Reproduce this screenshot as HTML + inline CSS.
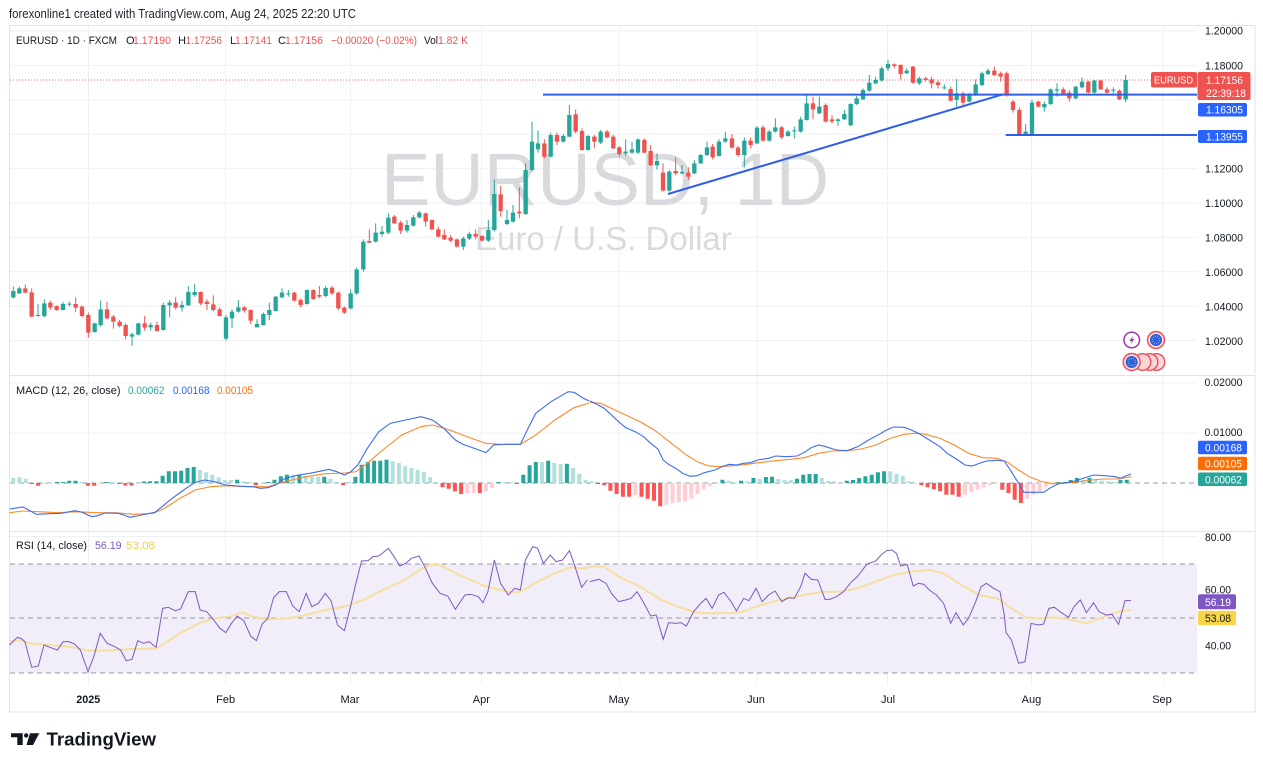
<!DOCTYPE html>
<html>
<head>
<meta charset="utf-8">
<style>
html,body{margin:0;padding:0;background:#fff;}
svg{display:block;}
</style>
</head>
<body>
<svg width="1263" height="768" viewBox="0 0 1263 768" xmlns="http://www.w3.org/2000/svg" font-family="'Liberation Sans', sans-serif">
<rect width="1263" height="768" fill="#ffffff"/>

<!-- header -->
<text x="9" y="18" font-size="12.5" fill="#1e222d" textLength="347" lengthAdjust="spacingAndGlyphs">forexonline1 created with TradingView.com, Aug 24, 2025 22:20 UTC</text>

<!-- frame -->
<rect x="9.5" y="25.5" width="1245.5" height="686.5" fill="none" stroke="#e0e3eb" stroke-width="1"/>

<!-- RSI band -->
<rect x="10" y="564" width="1187" height="109" fill="#f2eef9"/>

<!-- gridlines -->
<g stroke="#eef0f4" stroke-width="1">
<path d="M10 31H1197M10 65.4H1197M10 99.8H1197M10 134.2H1197M10 168.6H1197M10 203H1197M10 237.4H1197M10 271.8H1197M10 306.2H1197M10 340.6H1197"/>
<path d="M10 383H1197M10 433H1197"/>
<path d="M10 536.5H1197M10 591H1197M10 645H1197"/>
<path d="M88.5 26V685M225.5 26V685M350.5 26V685M481.5 26V685M619 26V685M757 26V685M887.5 26V685M1031.5 26V685M1163 26V685"/>
</g>
<!-- pane separators -->
<path d="M10 375.5H1255M10 531.5H1255" stroke="#e0e3eb" stroke-width="1"/>

<!-- dashed lines -->
<g stroke="#9598a1" stroke-width="1" stroke-dasharray="5 4" fill="none">
<path d="M10 483H1197"/>
<path d="M10 564H1197M10 618H1197M10 673H1197"/>
</g>

<!-- watermark -->
<text x="381" y="205" font-size="74" fill="#d9dadd">EURUSD, 1D</text>
<text x="475" y="250" font-size="33" fill="#d9dadd">Euro / U.S. Dollar</text>

<!-- price dotted line -->
<path d="M10 80H1151" stroke="#f23645" stroke-width="1" stroke-dasharray="1 2" opacity="0.75"/>

<!-- candles zoom4 -->
<g transform="translate(0,180) scale(0.333333)" fill="none">
<path stroke="#26a69a" stroke-width="3" d="M40 320V356M58 320V342M114 372V410M133 358V412M189 366V391M208 365V380M284 428V458M302 362V440M396 458V497M415 428V466M452 428V452M490 368V452M509 360V412M546 363V395M565 318V378M584 312V350M678 405V482M696 388V445M715 360V398M771 418V442M790 397V437M808 368V420M827 348V395M846 325V355M865 330V350M921 328V374M977 318V352M1052 328V388"/>
<path stroke="#26a69a" stroke-width="13" d="M40 333V352M58 325V340M114 405V408M133 370V408M189 372V390M208 371V374M284 430V456M302 388V435M396 463V470M415 430V464M452 435V442M490 375V450M509 368V376M546 375V383M565 336V376M584 336V345M678 412V476M696 395V415M715 382V395M771 432V442M790 402V435M808 390V405M827 350V393M846 338V352M865 340V343M921 330V372M977 324V348M1052 340V385"/>
<path stroke="#ef5350" stroke-width="3" d="M76 313V340M95 325V412M151 362V390M170 376V392M227 352V395M246 376V412M265 398V473M321 366V418M340 405V446M359 420V442M377 430V478M434 408V452M471 425V455M527 352V388M602 334V375M621 358V390M640 346V394M659 382V410M733 378V398M752 388V432M883 335V365M902 355V383M940 328V360M958 318V355M996 318V345M1015 335V390M1033 380V402"/>
<path stroke="#ef5350" stroke-width="13" d="M76 325V338M95 337V410M151 368V383M170 378V390M227 372V383M246 380V408M265 405V458M321 388V415M340 410V425M359 425V438M377 435V468M434 430V443M471 435V453M527 368V383M602 336V370M621 365V372M640 373V390M659 388V408M733 382V392M752 390V422M883 338V362M902 360V375M940 330V357M958 345V350M996 323V340M1015 338V385M1033 383V398"/>
</g>

<!-- candles zoom5 -->
<g transform="translate(340,80) scale(0.333333)" fill="none">
<path stroke="#26a69a" stroke-width="3" d="M50 562V645M70 478V575M107 430V488M126 438V470M145 400V462M201 420V458M220 405V440M238 393V415M370 470V510M388 455V480M445 420V486M463 298V455M501 390V435M519 375V428M557 250V405M576 125V275M594 152V218M632 158V232M670 162V188M688 75V172M744 165V212M782 150V192M857 178V228M876 185V222M894 175V222M951 220V268M988 270V335M1026 255V282M1063 240V282M1082 222V252M1101 185V228"/>
<path stroke="#26a69a" stroke-width="13" d="M50 568V640M70 485V568M107 458V485M126 455V462M145 413V458M201 435V452M220 412V437M238 398V412M370 475V500M388 462V476M445 450V482M463 342V450M501 420V432M519 398V425M557 270V402M576 185V270M594 190V208M632 165V230M670 168V185M688 105V170M744 168V210M782 155V188M857 215V220M876 208V218M894 178V218M951 243V256M988 275V332M1026 276V280M1063 250V280M1082 225V250M1101 202V225"/>
<path stroke="#ef5350" stroke-width="3" d="M88 448V490M163 405V432M182 422V462M257 398V440M276 418V450M295 440V473M313 448V480M332 465V487M351 475V503M407 448V478M426 465V485M482 318V410M538 322V415M613 178V235M651 158V195M707 88V160M726 145V212M763 165V205M801 150V175M820 165V207M838 198V230M913 175V220M932 195V258M969 250V335M1007 232V285M1045 262V300"/>
<path stroke="#ef5350" stroke-width="13" d="M88 483V488M163 410V430M182 428V452M257 400V425M276 420V448M295 448V470M313 465V478M332 473V482M351 478V500M407 462V470M426 468V482M482 343V393M538 395V400M613 190V230M651 165V185M707 103V155M726 153V210M763 170V185M801 155V172M820 170V205M838 202V222M913 180V218M932 213V255M969 278V332M1007 273V280M1045 278V290"/>
</g>

<!-- candles zoom6 -->
<g transform="translate(690,50) scale(0.333333)" fill="none">
<path stroke="#26a69a" stroke-width="3" d="M87 268V320M106 245V278M163 262V352M201 228V282M238 240V275M256 205V248M294 240V260M313 230V265M332 200V248M350 132V212M388 140V192M444 205V228M463 180V210M482 160V228M500 138V165M519 115V150M538 75V125M557 80V103M575 50V95M594 30V63M650 55V72M688 80V105M763 103V118M800 88V170M838 128V158M857 88V138M876 65V108M894 55V75M1007 222V258M1026 150V258M1063 155V185M1082 115V165M1101 100V140M1157 108V148M1176 82V115M1213 90V130M1270 112V130M1307 75V157"/>
<path stroke="#26a69a" stroke-width="13" d="M87 275V318M106 265V275M163 272V315M201 233V280M238 245V272M256 232V245M294 245V258M313 241V244M332 208V245M350 160V210M388 170V190M444 208V213M463 192V208M482 162V226M500 145V162M519 120V148M538 98V122M557 90V100M575 55V92M594 42V55M650 62V70M688 85V100M763 112V115M800 130V150M838 135V155M857 103V135M876 70V105M894 62V72M1007 245V255M1026 158V253M1063 162V172M1082 118V162M1101 118V122M1157 110V145M1176 95V112M1213 92V128M1270 119V122M1307 90V148"/>
<path stroke="#ef5350" stroke-width="3" d="M68 282V328M126 252V296M144 288V320M182 262V295M219 226V275M275 228V268M369 140V208M407 160V218M426 195V220M613 40V55M632 43V88M669 48V102M707 80V95M725 80V115M744 92V115M782 110V155M819 125V165M913 50V78M932 65V95M950 65V140M969 150V188M988 172V258M1045 152V172M1120 112V135M1138 120V155M1195 92V130M1232 90V120M1251 112V132M1288 118V150"/>
<path stroke="#ef5350" stroke-width="13" d="M68 290V322M126 265V293M144 293V315M182 272V285M219 232V272M275 232V262M369 160V178M407 165V215M426 208V215M613 43V48M632 45V72M669 50V98M707 85V90M725 88V100M744 97V105M782 117V152M819 130V158M913 62V75M932 70V80M950 70V135M969 155V180M988 180V255M1045 155V170M1120 118V132M1138 128V145M1195 95V128M1232 92V118M1251 118V128M1288 122V148"/>
</g>

<!-- drawn lines -->
<g stroke="#2f5fe6" stroke-width="2" fill="none">
<path d="M543 94.6H1197"/>
<path d="M1005.7 135H1197"/>
<path d="M668 194L1003 94.3"/>
</g>

<!-- MACD histogram -->
<path fill="#26a69a" d="M54.8 482h4v1h-4zM61.1 482h4v1h-4zM67.3 480.7h4v2.3h-4zM73.5 480.7h4v2.3h-4zM104.6 482h4v1h-4zM141.9 481.5h4v1.5h-4zM148.1 481.3h4v1.7h-4zM154.4 481.2h4v1.8h-4zM160.6 475.7h4v7.3h-4zM166.8 471.3h4v11.7h-4zM173 471.3h4v11.7h-4zM179.2 470.7h4v12.3h-4zM185.5 468h4v15h-4zM191.7 467h4v16h-4zM235.2 479.7h4v3.3h-4zM266.3 482h4v1h-4zM272.5 479.7h4v3.3h-4zM278.8 476.3h4v6.7h-4zM285 474.7h4v8.3h-4zM297.4 474.7h4v8.3h-4zM322.3 476.7h4v6.3h-4zM353.4 476.7h4v6.3h-4zM359.6 464.7h4v18.3h-4zM365.8 462h4v21h-4zM372.1 460.7h4v22.3h-4zM378.3 460.7h4v22.3h-4zM384.5 459.7h4v23.3h-4zM496.5 482h4v1h-4zM521.3 474.7h4v8.3h-4zM527.6 465.3h4v17.7h-4zM533.8 462h4v21h-4zM546.2 460.7h4v22.3h-4zM564.9 463.7h4v19.3h-4zM720.4 479.7h4v3.3h-4zM739 480.7h4v2.3h-4zM751.5 478h4v5h-4zM763.9 477h4v6h-4zM770.1 476.7h4v6.3h-4zM795 478.7h4v4.3h-4zM801.2 474.7h4v8.3h-4zM807.5 474h4v9h-4zM813.7 474h4v9h-4zM844.8 480.7h4v2.3h-4zM851 480h4v3h-4zM857.2 478h4v5h-4zM863.4 476.3h4v6.7h-4zM869.7 474.7h4v8.3h-4zM875.9 472.3h4v10.7h-4zM882.1 471.3h4v11.7h-4zM1056.3 482h4v1h-4zM1062.5 482h4v1h-4zM1068.7 480h4v3h-4zM1074.9 478h4v5h-4zM1087.4 478h4v5h-4zM1118.5 480h4v3h-4zM1124.7 479.9h4v3.1h-4z"/>
<path fill="#b2dfdb" d="M11.3 478h4v5h-4zM17.5 477.3h4v5.7h-4zM23.7 478.7h4v4.3h-4zM79.7 482h4v1h-4zM110.8 482h4v1h-4zM197.9 470h4v13h-4zM204.1 472.3h4v10.7h-4zM210.3 474.7h4v8.3h-4zM216.6 477.3h4v5.7h-4zM222.8 480h4v3h-4zM229 480h4v3h-4zM241.4 481.3h4v1.7h-4zM247.7 482h4v1h-4zM291.2 474.7h4v8.3h-4zM303.6 475.7h4v7.3h-4zM309.9 476.7h4v6.3h-4zM316.1 476.7h4v6.3h-4zM328.5 478.7h4v4.3h-4zM334.7 482h4v1h-4zM347.2 482h4v1h-4zM390.7 461.3h4v21.7h-4zM396.9 463h4v20h-4zM403.2 466.3h4v16.7h-4zM409.4 468h4v15h-4zM415.6 469.7h4v13.3h-4zM421.8 472h4v11h-4zM428 477.3h4v5.7h-4zM434.3 482h4v1h-4zM502.7 482h4v1h-4zM508.9 482h4v1h-4zM540 462.3h4v20.7h-4zM552.4 463h4v20h-4zM558.7 464h4v19h-4zM571.1 468h4v15h-4zM577.3 474h4v9h-4zM583.5 479.7h4v3.3h-4zM589.8 481.3h4v1.7h-4zM726.6 480.7h4v2.3h-4zM732.8 482h4v1h-4zM745.3 481.3h4v1.7h-4zM757.7 478.7h4v4.3h-4zM776.4 479h4v4h-4zM782.6 480h4v3h-4zM788.8 480h4v3h-4zM819.9 478h4v5h-4zM826.1 480.7h4v2.3h-4zM832.3 481.3h4v1.7h-4zM888.3 471.3h4v11.7h-4zM894.5 474h4v9h-4zM900.8 475.7h4v7.3h-4zM907 481.3h4v1.7h-4zM1081.1 480h4v3h-4zM1093.6 480h4v3h-4zM1099.8 480.7h4v2.3h-4zM1106 481.3h4v1.7h-4zM1112.2 482h4v1h-4z"/>
<path fill="#ff5252" d="M30 483h4v1h-4zM36.2 483h4v2.7h-4zM85.9 483h4v2.7h-4zM92.2 483h4v2.7h-4zM117 483h4v1h-4zM123.3 483h4v2.5h-4zM129.5 483h4v2.5h-4zM253.9 483h4v2.3h-4zM341 483h4v2.3h-4zM440.5 483h4v4.3h-4zM446.7 483h4v5.7h-4zM452.9 483h4v8.3h-4zM459.1 483h4v11h-4zM477.8 483h4v10h-4zM515.1 483h4v1h-4zM596 483h4v1h-4zM602.2 483h4v2.3h-4zM608.4 483h4v7.7h-4zM614.6 483h4v11h-4zM620.9 483h4v13.7h-4zM627.1 483h4v13.7h-4zM639.5 483h4v13.7h-4zM645.7 483h4v15.7h-4zM652 483h4v17.7h-4zM658.2 483h4v23.3h-4zM919.4 483h4v2.3h-4zM925.6 483h4v4.3h-4zM931.9 483h4v6.3h-4zM938.1 483h4v8.3h-4zM944.3 483h4v11.7h-4zM950.5 483h4v11.7h-4zM956.7 483h4v13.7h-4zM1000.3 483h4v6.7h-4zM1006.5 483h4v10h-4zM1012.7 483h4v16.7h-4zM1018.9 483h4v20h-4z"/>
<path fill="#ffcdd2" d="M42.4 483h4v1h-4zM48.6 483h4v1h-4zM98.4 483h4v1h-4zM135.7 483h4v1h-4zM260.1 483h4v1h-4zM465.4 483h4v10h-4zM471.6 483h4v10h-4zM484 483h4v8.3h-4zM490.2 483h4v5h-4zM633.3 483h4v12.3h-4zM664.4 483h4v21.7h-4zM670.6 483h4v20h-4zM676.8 483h4v19h-4zM683.1 483h4v18.3h-4zM689.3 483h4v15.7h-4zM695.5 483h4v11h-4zM701.7 483h4v6.7h-4zM707.9 483h4v3.3h-4zM714.2 483h4v1h-4zM838.6 483h4v1h-4zM913.2 483h4v1h-4zM963 483h4v11.7h-4zM969.2 483h4v9h-4zM975.4 483h4v6.7h-4zM981.6 483h4v4.3h-4zM987.8 483h4v2.3h-4zM994.1 483h4v1h-4zM1025.2 483h4v15.7h-4zM1031.4 483h4v11.7h-4zM1037.6 483h4v8.3h-4zM1043.8 483h4v4.3h-4zM1050 483h4v1.7h-4z"/>

<!-- MACD lines -->
<g transform="translate(0,375) scale(0.38265,0.333333)" fill="none">
<polyline vector-effect="non-scaling-stroke" stroke="#ff8a2a" stroke-width="1.1" points="25,413 60,408 100,410 150,413 200,410 250,413 300,413 350,418 400,415 430,400 470,370 510,345 550,335 590,332 650,335 700,335 750,318 800,305 850,296 900,294 930,290 960,265 1000,225 1050,180 1100,155 1130,150 1170,163 1220,185 1270,205 1310,208 1360,208 1400,180 1450,135 1500,98 1540,84"/>
<polyline vector-effect="non-scaling-stroke" stroke="#3d6cf0" stroke-width="1.1" points="25,402 60,396 75,405 95,418 130,416 160,415 195,407 215,412 240,425 255,422 275,414 310,415 340,427 370,420 405,412 420,398 450,370 480,345 510,322 535,315 560,320 590,330 630,334 660,335 680,340 700,338 720,330 745,310 780,300 810,295 860,283 880,290 900,300 915,292 935,270 960,220 990,170 1020,145 1060,135 1100,125 1130,135 1160,160 1190,195 1210,208 1240,220 1270,233 1290,210 1320,208 1360,208 1380,160 1400,115 1440,80 1485,50 1500,52 1525,70 1540,78"/>
</g>
<g transform="translate(590,375) scale(0.357143,0.333333)" fill="none">
<polyline vector-effect="non-scaling-stroke" stroke="#ff8a2a" stroke-width="1.1" points="0,82 30,85 60,100 100,120 140,140 180,165 210,190 240,215 270,240 300,260 330,272 360,275 400,272 440,268 480,262 520,257 560,253 600,248 640,235 680,228 720,227 760,222 800,210 840,190 880,178 910,175 940,178 980,190 1020,210 1060,235 1100,248 1140,250 1170,262 1200,285 1230,305 1260,318 1290,325 1320,325 1360,322 1400,315 1440,312 1480,312 1500,308 1515,305"/>
<polyline vector-effect="non-scaling-stroke" stroke="#3d6cf0" stroke-width="1.1" points="0,78 20,88 40,100 60,120 80,140 100,158 130,172 150,185 170,205 190,222 205,255 220,268 240,280 260,295 280,304 300,302 320,293 350,285 370,275 390,268 410,270 430,265 450,263 470,255 500,250 520,243 550,245 580,243 600,232 620,218 640,210 660,215 690,225 720,227 750,215 780,195 810,178 830,165 850,156 880,157 900,165 920,175 950,195 980,215 1000,235 1030,255 1050,270 1070,273 1090,265 1110,258 1140,256 1160,258 1180,290 1200,325 1215,352 1240,352 1270,352 1290,338 1310,327 1340,322 1360,318 1380,310 1410,300 1440,302 1470,305 1485,310 1500,303 1515,297"/>
</g>

<!-- RSI lines -->
<g transform="translate(0,530) scale(0.38265,0.333333)" fill="none">
<polyline vector-effect="non-scaling-stroke" stroke="#f5dfa0" stroke-width="2" points="25,335 50,330 80,340 130,345 180,350 230,362 280,362 330,358 410,355 430,340 470,310 520,280 560,265 600,260 635,247 660,260 700,268 750,265 800,255 850,240 900,230 950,210 1000,180 1050,155 1100,118 1125,103 1150,105 1200,135 1260,165 1300,178 1340,188 1360,185 1400,158 1450,130 1490,112 1520,115 1540,112"/>
<polyline vector-effect="non-scaling-stroke" stroke="#7e57c2" stroke-width="1" points="25,345 45,322 55,325 65,335 83,412 100,408 115,345 130,352 150,360 165,335 180,335 195,342 210,360 230,425 245,380 262,310 280,340 300,350 315,360 330,392 345,388 360,332 375,340 390,335 408,352 425,235 440,232 458,242 472,237 492,185 510,185 523,240 540,245 555,265 575,295 590,308 605,280 620,258 637,272 655,318 670,332 685,282 700,265 715,203 730,185 748,185 765,228 782,245 800,190 815,230 832,220 850,190 865,212 882,285 900,302 915,235 930,160 945,93 962,92 975,80 990,78 1015,55 1030,80 1045,108 1060,100 1075,85 1095,78 1110,110 1130,160 1150,190 1170,198 1190,238 1215,195 1230,193 1250,200 1262,218 1275,185 1292,90 1308,160 1328,195 1345,175 1360,180 1373,90 1392,50 1405,55 1420,100 1438,75 1453,95 1470,90 1488,62 1500,100 1520,172 1535,150"/>
</g>
<g transform="translate(590,530) scale(0.357143,0.333333)" fill="none">
<polyline vector-effect="non-scaling-stroke" stroke="#f5dfa0" stroke-width="2" points="0,110 40,110 80,140 140,170 200,210 250,232 300,248 350,250 420,248 470,228 530,210 600,195 650,186 700,185 750,175 800,155 850,135 900,125 950,120 990,130 1040,165 1090,195 1140,205 1180,235 1220,262 1260,265 1300,262 1340,268 1390,280 1420,268 1460,252 1490,243 1515,240"/>
<polyline vector-effect="non-scaling-stroke" stroke="#7e57c2" stroke-width="1" points="0,155 25,148 45,160 60,190 80,215 100,210 115,205 132,185 150,218 170,258 185,255 205,328 220,278 240,280 255,278 270,288 290,245 310,220 325,205 342,235 360,195 375,187 395,215 410,243 430,205 445,212 465,175 482,215 500,195 518,183 537,215 555,203 572,205 590,170 602,130 620,148 638,150 658,208 672,208 690,200 710,185 730,158 750,138 775,103 800,93 815,75 830,62 845,60 858,70 870,108 888,103 905,168 920,160 935,163 950,180 970,195 990,220 1010,280 1025,248 1045,285 1060,265 1080,215 1095,170 1110,160 1130,175 1148,185 1160,255 1165,308 1180,330 1200,400 1218,395 1235,280 1255,285 1270,282 1285,235 1300,232 1320,248 1340,262 1355,230 1373,210 1390,248 1410,218 1425,245 1445,255 1462,253 1480,283 1498,212 1515,212"/>
</g>

<!-- legends -->
<g font-size="11">
<text x="16" y="44" fill="#131722" textLength="101" lengthAdjust="spacingAndGlyphs">EURUSD · 1D · FXCM</text>
<text x="126" y="44" fill="#131722">O</text>
<text x="133" y="44" fill="#ef5350" textLength="38" lengthAdjust="spacingAndGlyphs">1.17190</text>
<text x="178" y="44" fill="#131722">H</text>
<text x="185.5" y="44" fill="#ef5350" textLength="36.5" lengthAdjust="spacingAndGlyphs">1.17256</text>
<text x="230" y="44" fill="#131722">L</text>
<text x="235" y="44" fill="#ef5350" textLength="37" lengthAdjust="spacingAndGlyphs">1.17141</text>
<text x="278" y="44" fill="#131722">C</text>
<text x="285" y="44" fill="#ef5350" textLength="38" lengthAdjust="spacingAndGlyphs">1.17156</text>
<text x="331" y="44" fill="#ef5350" textLength="86" lengthAdjust="spacingAndGlyphs">−0.00020 (−0.02%)</text>
<text x="424" y="44" fill="#131722" textLength="14" lengthAdjust="spacingAndGlyphs">Vol</text>
<text x="438" y="44" fill="#ef5350" textLength="30" lengthAdjust="spacingAndGlyphs">1.82 K</text>

<text x="16" y="394" fill="#131722" textLength="104.5" lengthAdjust="spacingAndGlyphs">MACD (12, 26, close)</text>
<text x="128" y="394" fill="#26a69a" textLength="36.5" lengthAdjust="spacingAndGlyphs">0.00062</text>
<text x="173" y="394" fill="#2962ff" textLength="36.5" lengthAdjust="spacingAndGlyphs">0.00168</text>
<text x="217" y="394" fill="#ff6d00" textLength="36" lengthAdjust="spacingAndGlyphs">0.00105</text>

<text x="16" y="549" fill="#131722" textLength="71" lengthAdjust="spacingAndGlyphs">RSI (14, close)</text>
<text x="95" y="549" fill="#7e57c2" textLength="26.5" lengthAdjust="spacingAndGlyphs">56.19</text>
<text x="126" y="549" fill="#f2cf4a" textLength="29" lengthAdjust="spacingAndGlyphs">53.08</text>
</g>

<!-- price axis -->
<g font-size="11" fill="#131722">
<text x="1205" y="34.5" textLength="38" lengthAdjust="spacingAndGlyphs">1.20000</text>
<text x="1205" y="69.5" textLength="38" lengthAdjust="spacingAndGlyphs">1.18000</text>
<text x="1205" y="172.5" textLength="38" lengthAdjust="spacingAndGlyphs">1.12000</text>
<text x="1205" y="207" textLength="38" lengthAdjust="spacingAndGlyphs">1.10000</text>
<text x="1205" y="241.5" textLength="38" lengthAdjust="spacingAndGlyphs">1.08000</text>
<text x="1205" y="276" textLength="38" lengthAdjust="spacingAndGlyphs">1.06000</text>
<text x="1205" y="310.5" textLength="38" lengthAdjust="spacingAndGlyphs">1.04000</text>
<text x="1205" y="345" textLength="38" lengthAdjust="spacingAndGlyphs">1.02000</text>
<text x="1204.5" y="386" textLength="38" lengthAdjust="spacingAndGlyphs">0.02000</text>
<text x="1204.5" y="436" textLength="38" lengthAdjust="spacingAndGlyphs">0.01000</text>
<text x="1205" y="541" textLength="26" lengthAdjust="spacingAndGlyphs">80.00</text>
<text x="1205" y="593.5" textLength="26" lengthAdjust="spacingAndGlyphs">60.00</text>
<text x="1205" y="649.5" textLength="26" lengthAdjust="spacingAndGlyphs">40.00</text>
</g>

<!-- time axis -->
<g font-size="11" fill="#131722" text-anchor="middle">
<text x="88.3" y="703" font-weight="bold" textLength="24" lengthAdjust="spacingAndGlyphs">2025</text>
<text x="225.6" y="703">Feb</text>
<text x="350" y="703">Mar</text>
<text x="481.3" y="703">Apr</text>
<text x="619" y="703">May</text>
<text x="756" y="703">Jun</text>
<text x="888" y="703">Jul</text>
<text x="1031.4" y="703">Aug</text>
<text x="1162" y="703">Sep</text>
</g>

<!-- price boxes -->
<rect x="1151" y="72" width="46" height="15.5" rx="2" fill="#ef5350"/>
<text x="1154" y="83.5" font-size="10.5" fill="#ffffff" textLength="39" lengthAdjust="spacingAndGlyphs">EURUSD</text>
<rect x="1197.5" y="72" width="53" height="28" rx="2" fill="#ef5350"/>
<text x="1206" y="84" font-size="11" fill="#ffffff" textLength="37" lengthAdjust="spacingAndGlyphs">1.17156</text>
<text x="1206" y="97" font-size="11" fill="#ffffff" textLength="40" lengthAdjust="spacingAndGlyphs">22:39:18</text>
<rect x="1198" y="103" width="49" height="13.5" rx="2" fill="#2962ff"/>
<text x="1206" y="113.7" font-size="11" fill="#ffffff" textLength="37" lengthAdjust="spacingAndGlyphs">1.16305</text>
<rect x="1198" y="130" width="49" height="13" rx="2" fill="#2962ff"/>
<text x="1206" y="140.5" font-size="11" fill="#ffffff" textLength="37" lengthAdjust="spacingAndGlyphs">1.13955</text>

<rect x="1198" y="440.7" width="49" height="13.5" rx="2" fill="#2962ff"/>
<text x="1205" y="451.5" font-size="11" fill="#ffffff" textLength="37" lengthAdjust="spacingAndGlyphs">0.00168</text>
<rect x="1198" y="456.7" width="49" height="13.5" rx="2" fill="#ff6d00"/>
<text x="1205" y="467.3" font-size="11" fill="#ffffff" textLength="37" lengthAdjust="spacingAndGlyphs">0.00105</text>
<rect x="1198" y="472.5" width="49" height="13.5" rx="2" fill="#26a69a"/>
<text x="1205" y="483.3" font-size="11" fill="#ffffff" textLength="37" lengthAdjust="spacingAndGlyphs">0.00062</text>

<rect x="1198" y="594.3" width="38" height="15" rx="2" fill="#7e57c2"/>
<text x="1205" y="605.8" font-size="11" fill="#ffffff" textLength="26" lengthAdjust="spacingAndGlyphs">56.19</text>
<rect x="1198" y="610.7" width="38" height="14.5" rx="2" fill="#f7d54a"/>
<text x="1205" y="621.8" font-size="11" fill="#131722" textLength="26" lengthAdjust="spacingAndGlyphs">53.08</text>

<!-- icons -->
<circle cx="1131.7" cy="340" r="7.8" fill="#ffffff" stroke="#9c27b0" stroke-width="1.4"/>
<path d="M1133.3 335.3L1129.5 341H1131.9L1130.4 344.8L1134.3 338.9H1131.9Z" fill="#9c27b0"/>
<circle cx="1156" cy="340" r="8.5" fill="#fbd5d8" stroke="#e8505b" stroke-width="1.4"/>
<circle cx="1156" cy="340" r="6" fill="#2f62d6"/>
<circle cx="1156" cy="340" r="3.5" fill="none" stroke="#9fb6f0" stroke-width="1" stroke-dasharray="1 1.2"/>
<g stroke="#e8505b" stroke-width="1.4" fill="#fbd5d8">
<circle cx="1156.5" cy="362" r="8.3"/>
<circle cx="1149.5" cy="362" r="8.3"/>
<circle cx="1142.5" cy="362" r="8.3"/>
<circle cx="1131.7" cy="362" r="8.5"/>
</g>
<circle cx="1131.7" cy="362" r="6" fill="#2f62d6"/>
<circle cx="1131.7" cy="362" r="3.5" fill="none" stroke="#9fb6f0" stroke-width="1" stroke-dasharray="1 1.2"/>

<!-- logo -->
<g fill="#131722">
<path d="M11 733.3H22.7V745H17.3V737.3H11Z"/>
<circle cx="26.2" cy="735.4" r="2.2"/>
<path d="M30 733.3H39.3L33 745H26.5Z"/>
</g>
<text x="46.5" y="745.5" font-size="18.5" font-weight="bold" fill="#131722" textLength="109.5" lengthAdjust="spacingAndGlyphs">TradingView</text>
</svg>
</body>
</html>
